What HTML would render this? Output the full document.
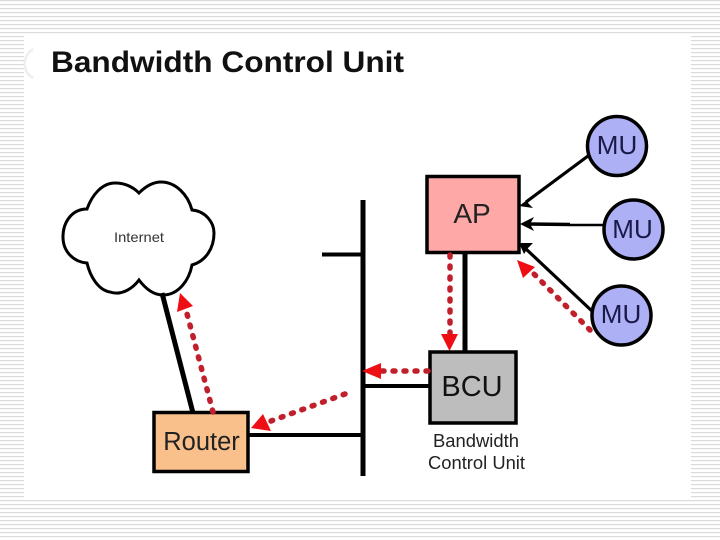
<!DOCTYPE html>
<html><head><meta charset="utf-8"><style>
html,body{margin:0;padding:0;background:#fff}
svg{display:block}
text{font-family:"Liberation Sans",sans-serif}
</style></head><body>
<svg width="720" height="540" viewBox="0 0 720 540" xmlns="http://www.w3.org/2000/svg">
<defs><pattern id="s" width="4" height="4" patternUnits="userSpaceOnUse"><rect width="4" height="4" fill="#fff"/><rect y="0" width="4" height="1.2" fill="#dadada"/></pattern></defs>
<rect width="720" height="540" fill="url(#s)"/>
<rect x="24" y="34" width="667" height="465.500" fill="#fff"/>
<text x="51" y="72" font-size="30" font-weight="bold" fill="#111" textLength="353" lengthAdjust="spacingAndGlyphs">Bandwidth Control Unit</text>
<path d="M33 49 C22 56 22 72 33 78" fill="none" stroke="#eeeeee" stroke-width="2.500"/>

<path d="M139 193 C133 187 125 183 115 183 C102 183 92 195 87 209 C72 209 63 222 63 237 C63 252 74 262 87 263 C90 276 98 290 110 292 C122 296 133 288 139 280 C145 288 153 295 163 295 C178 295 189 281 192 265 C206 261 214 248 214 233 C214 222 205 211 192 210 C188 195 176 182 161 182 C152 182 145 187 139 193 Z" fill="#fff" stroke="#000" stroke-width="3"/>
<text x="139" y="242" font-size="14" text-anchor="middle" fill="#333" textLength="50" lengthAdjust="spacingAndGlyphs">Internet</text>

<g stroke="#000" fill="none">
<line x1="363" y1="200" x2="363" y2="476" stroke-width="5"/>
<line x1="322" y1="254.500" x2="363" y2="254.500" stroke-width="4"/>
<line x1="363" y1="386" x2="430" y2="386" stroke-width="4"/>
<line x1="249" y1="435" x2="363" y2="435" stroke-width="4"/>
<line x1="465" y1="253" x2="465" y2="352" stroke-width="5"/>
<line x1="162" y1="293" x2="193" y2="413" stroke-width="5"/>
<line x1="588" y1="156" x2="526" y2="202" stroke-width="3.200"/>
<line x1="603" y1="225" x2="570" y2="225" stroke-width="2.500"/>
<line x1="570" y1="224.500" x2="528" y2="224" stroke-width="3.500"/>
<line x1="593" y1="312" x2="526" y2="249" stroke-width="3.200"/>
</g>
<g fill="#000">
<polygon points="519,206 531,197 528,203 533,208"/>
<polygon points="520,224 534,217 530,224 534,231"/>
<polygon points="519,243 533,243 528,248 524,254"/>
</g>

<rect x="427" y="176.500" width="92" height="76" fill="#ffa8a8" stroke="#000" stroke-width="3.500"/>
<text x="472" y="223" font-size="28" text-anchor="middle" fill="#222">AP</text>
<rect x="430" y="352" width="86" height="71" fill="#bdbdbd" stroke="#000" stroke-width="3.500"/>
<text x="472" y="396" font-size="29" text-anchor="middle" fill="#111">BCU</text>
<rect x="154" y="412.500" width="94" height="59" fill="#fac08c" stroke="#000" stroke-width="3.500"/>
<text x="201.500" y="450" font-size="25.500" text-anchor="middle" fill="#222">Router</text>

<g fill="#aeb0f5" stroke="#000" stroke-width="3.500">
<circle cx="617" cy="146" r="29.500"/>
<circle cx="633.500" cy="229.500" r="29.500"/>
<circle cx="621.500" cy="315.500" r="29.500"/>
</g>
<g font-size="26" text-anchor="middle" fill="#1a1a4a">
<text x="617" y="154">MU</text>
<text x="632.500" y="238">MU</text>
<text x="621" y="323">MU</text>
</g>

<g font-size="18" text-anchor="middle" fill="#222">
<text x="476" y="447" textLength="86" lengthAdjust="spacingAndGlyphs">Bandwidth</text>
<text x="476.500" y="469" textLength="97" lengthAdjust="spacingAndGlyphs">Control Unit</text>
</g>

<g stroke="#c0202c" stroke-width="5.500" stroke-dasharray="2 9" stroke-linecap="round" fill="none">
<line x1="450" y1="255" x2="450" y2="334"/>
<line x1="428" y1="371" x2="380" y2="371"/>
<line x1="345" y1="394" x2="271" y2="421"/>
<line x1="213" y1="412" x2="186" y2="310"/>
<line x1="590" y1="330" x2="532" y2="272"/>
</g>
<g fill="#ee0f14">
<polygon points="449.500,351 441,334 458,334"/>
<polygon points="362,371 381,363 381,379"/>
<polygon points="251,428 263,414 271,431"/>
<polygon points="180,293 193,306 177,312"/>
<polygon points="517,260 535,267 523,278"/>
</g>
</svg>
</body></html>
